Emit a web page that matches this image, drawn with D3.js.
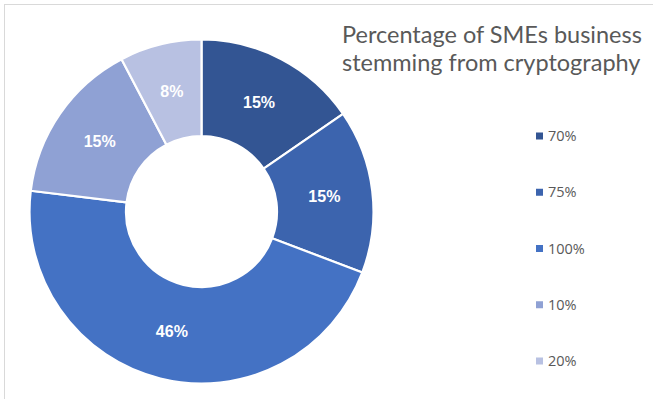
<!DOCTYPE html>
<html>
<head>
<meta charset="utf-8">
<script src="https://cdn.jsdelivr.net/npm/d3@7"></script>
<style>
  html, body { margin: 0; padding: 0; background: #fff; }
  svg { display: block; }
</style>
</head>
<body>
<svg id="chart" width="653" height="399"></svg>
<script>
// Share of SMEs by portion of business stemming from cryptography
const categories = ["70%", "75%", "100%", "10%", "20%"];
const counts = [2, 2, 6, 2, 1];
const colors = ["#335593", "#3c64ae", "#4472c4", "#8fa1d4", "#b8c1e2"];
const titleLines = ["Percentage of SMEs business", "stemming from cryptography"];

const svg = d3.select("#chart");
const W = 653, H = 399;

// chart area frame (only top and left edges fall inside the view)
svg.append("rect")
  .attr("x", 4.5).attr("y", 4.5)
  .attr("width", W + 20).attr("height", H + 20)
  .attr("fill", "#fff").attr("stroke", "#d9d9d9").attr("stroke-width", 1);

const cx = 201.5, cy = 211.5, outerR = 172, innerR = 75.5;
const total = d3.sum(counts);

const pie = d3.pie().sort(null).value(d => d.v);
const data = pie(categories.map((c, i) => ({ c, v: counts[i], col: colors[i] })));

const arc = d3.arc().innerRadius(innerR).outerRadius(outerR);
const labelArc = d3.arc().innerRadius((innerR + outerR) / 2).outerRadius((innerR + outerR) / 2);

const g = svg.append("g").attr("transform", `translate(${cx},${cy})`);

g.selectAll("path.slice")
  .data(data)
  .join("path")
  .attr("class", "slice")
  .attr("d", arc)
  .attr("fill", d => d.data.col)
  .attr("stroke", "#fff")
  .attr("stroke-width", 2.2)
  .attr("stroke-linejoin", "round");

g.selectAll("text.lbl")
  .data(data)
  .join("text")
  .attr("class", "lbl")
  .attr("transform", d => `translate(${labelArc.centroid(d)})`)
  .attr("text-anchor", "middle")
  .attr("dy", "0.36em")
  .attr("fill", "#fff")
  .attr("font-family", "Liberation Sans, Arial, sans-serif")
  .attr("font-weight", "bold")
  .attr("font-size", 16)
  .text(d => Math.round(d.data.v / total * 100) + "%");

// two-line title
svg.append("g")
  .attr("class", "title")
  .selectAll("text")
  .data(titleLines)
  .join("text")
  .attr("x", 342)
  .attr("y", (d, i) => 43 + i * 28.4)
  .attr("fill", "#595959")
  .attr("font-family", "Lato, 'Open Sans', sans-serif")
  .attr("font-size", 23.5)
  .text(d => d);

// legend
const ly = d3.scalePoint().domain(categories).range([136, 361]);
const leg = svg.append("g")
  .selectAll("g")
  .data(data)
  .join("g")
  .attr("transform", d => `translate(536,${ly(d.data.c)})`);

leg.append("rect")
  .attr("x", 0).attr("y", -3.5)
  .attr("width", 7).attr("height", 7)
  .attr("fill", d => d.data.col);

leg.append("text")
  .attr("x", 12)
  .attr("dy", "0.36em")
  .attr("fill", "#595959")
  .attr("font-family", "'Open Sans', Lato, sans-serif")
  .attr("font-size", 14.5)
  .text(d => d.data.c);
</script>
</body>
</html>
